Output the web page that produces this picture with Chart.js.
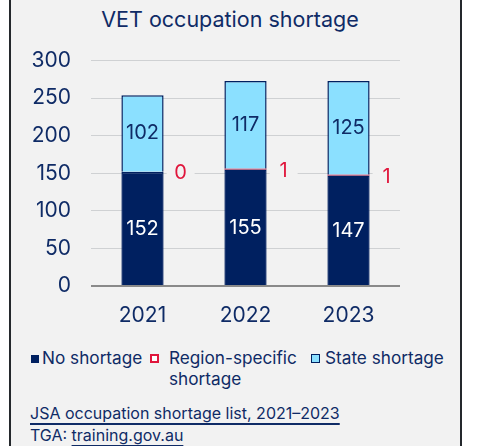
<!DOCTYPE html>
<html>
<head>
<meta charset="utf-8">
<script src="https://cdn.jsdelivr.net/npm/chart.js@4"></script>
<style>
  body { margin: 0; background: #fff; font-family: Inter, sans-serif; }
  .frame {
    position: absolute; left: 9px; top: -5px; width: 449px; height: 460px;
    background: #f2f2f2; border-left: 2px solid #24282c; border-right: 2px solid #24282c;
  }
  .title {
    position: absolute; left: 0; width: 460px; top: 6px; text-align: center;
    font-size: 21.5px; color: #0f2b66;
  }
  #wrap { position: absolute; left: 10px; top: 28px; width: 450px; height: 308px; }
  .legend { position: absolute; font-size: 17.2px; color: #0f2b66; line-height: 21px; }
  .mk { position: absolute; box-sizing: border-box; }
  .foot { position: absolute; left: 30px; font-size: 16px; color: #0f2b66; }
  .foot u { text-decoration-thickness: 2px; text-underline-offset: 4px; }
</style>
</head>
<body>
<div class="frame"></div>
<div class="title">VET occupation shortage</div>
<div id="wrap"><canvas id="chart"></canvas></div>

<div class="mk" style="left:31px;top:355px;width:8px;height:8px;background:#002060"></div>
<div class="legend" style="left:42px;top:347px">No shortage</div>
<div class="mk" style="left:150px;top:354px;width:9px;height:9px;background:#fff;border:2px solid #e0163c"></div>
<div class="legend" style="left:169px;top:347px">Region-specific<br>shortage</div>
<div class="mk" style="left:311px;top:354px;width:9px;height:9px;background:#8be0ff;border:1.5px solid #002060"></div>
<div class="legend" style="left:325px;top:347px">State shortage</div>

<div class="foot" style="top:403px"><u>JSA occupation shortage list, 2021–2023</u></div>
<div class="foot" style="top:425px">TGA: <u>training.gov.au</u></div>

<script>
// ==========================================
// Data
// ==========================================
const years = ['2021', '2022', '2023'];
const noShortage = [152, 155, 147];
const regionShortage = [0, 1, 1];
const stateShortage = [102, 117, 125];
const yTicks = [0, 50, 100, 150, 200, 250, 300];

const NAVY = '#002060';
const TEXT = '#0f2b66';
const LIGHT = '#8be0ff';
const RED = '#e0163c';

// labels inside and beside the bars
const valueLabels = {
    id: 'valueLabels',
    afterDatasetsDraw(chart) {
        const ctx = chart.ctx;
        const y = chart.scales.y;
        ctx.save();
        ctx.font = '20px Inter';
        ctx.textAlign = 'center';
        ctx.textBaseline = 'middle';

        chart.getDatasetMeta(0).data.forEach((bar, i) => {
            ctx.fillStyle = '#ffffff';
            ctx.fillText(noShortage[i], bar.x, y.getPixelForValue(noShortage[i] / 2));
        });

        chart.getDatasetMeta(2).data.forEach((bar, i) => {
            const base = noShortage[i] + regionShortage[i];
            ctx.fillStyle = TEXT;
            ctx.fillText(stateShortage[i], bar.x, y.getPixelForValue(base + stateShortage[i] / 2));
        });

        chart.getDatasetMeta(1).data.forEach((bar, i) => {
            const cx = bar.x + bar.width / 2 + 17;
            const cy = y.getPixelForValue(noShortage[i] + regionShortage[i] / 2) + 1.5;
            ctx.fillStyle = '#f2f2f2';
            ctx.fillRect(cx - 14, cy - 12, 28, 24);
            ctx.fillStyle = RED;
            ctx.fillText(regionShortage[i], cx, cy);
        });
        ctx.restore();
    }
};

new Chart(document.getElementById('chart'), {
    type: 'bar',
    data: {
        labels: years,
        datasets: [
            {
                label: 'No shortage',
                data: noShortage,
                backgroundColor: NAVY,
                borderColor: NAVY,
                borderWidth: 1.5
            },
            {
                label: 'Region-specific shortage',
                data: regionShortage,
                backgroundColor: RED,
                borderWidth: 0
            },
            {
                label: 'State shortage',
                data: stateShortage,
                backgroundColor: LIGHT,
                borderColor: NAVY,
                borderWidth: 1.5
            }
        ]
    },
    options: {
        responsive: true,
        maintainAspectRatio: false,
        animation: false,
        layout: { padding: { top: 0, right: 60, left: 0, bottom: 0 } },
        datasets: {
            bar: { categoryPercentage: 1, barPercentage: 0.41 }
        },
        plugins: {
            legend: { display: false },
            tooltip: { enabled: false }
        },
        scales: {
            x: {
                stacked: true,
                grid: { display: false },
                border: { display: false },
                ticks: {
                    color: TEXT,
                    padding: 9,
                    font: { family: 'Inter', size: 21 }
                },
                afterFit: scale => { scale.height = 50; }
            },
            y: {
                stacked: true,
                min: 0,
                max: 300,
                afterBuildTicks: scale => { scale.ticks = yTicks.map(v => ({ value: v })); },
                border: { display: false },
                grid: {
                    drawTicks: false,
                    color: c => c.tick && c.tick.value === 0 ? '#8a8a8a' : '#cfd1d3',
                    lineWidth: c => c.tick && c.tick.value === 0 ? 2 : 1
                },
                ticks: {
                    color: TEXT,
                    padding: 20,
                    font: { family: 'Inter', size: 21 }
                },
                afterFit: scale => { scale.width = 81; }
            }
        }
    },
    plugins: [valueLabels]
});
</script>
</body>
</html>
